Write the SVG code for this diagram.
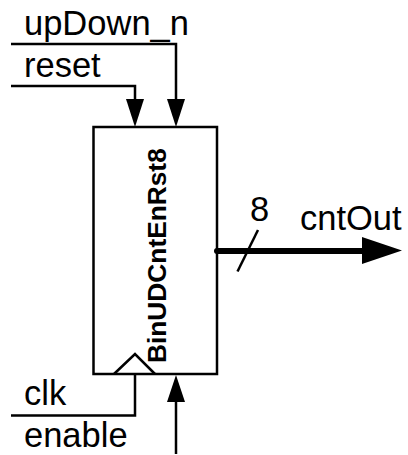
<svg xmlns="http://www.w3.org/2000/svg" width="408" height="455" viewBox="0 0 408 455">
<style>
text{font-family:"Liberation Sans",Arial,sans-serif;fill:#000}
.l{font-size:34.5px}
.w{fill:none;stroke:#000;stroke-width:2.5}
.a{fill:#000;stroke:none}
</style>
<rect width="408" height="455" fill="#fff"/>
<g id="connectors">
<path class="w" d="M11 44H176V100"/>
<path class="a" d="M167 99H185L176 127Z"/>
<path class="w" d="M11 86H135V100"/>
<path class="a" d="M126 99H144L135 127Z"/>
<path class="w" d="M11 415.500H135V374"/>
<path class="w" d="M176 454V400"/>
<path class="a" d="M167 402H185L176 375Z"/>
<path fill="none" stroke="#000" stroke-width="6" stroke-linecap="round" d="M217 251H365"/>
<path class="a" d="M362 237L402 250.500L362 264Z"/>
<path class="w" d="M237.500 271.500L258 230"/>
</g>
<g id="block">
<rect x="93.500" y="127" width="123.500" height="247" fill="none" stroke="#000" stroke-width="2.500"/>
<path class="w" d="M114 374L135 354L155 374"/>
<text transform="translate(166 363) rotate(-90)" font-size="26.300" font-weight="bold">BinUDCntEnRst8</text>
</g>
<g id="labels">
<text class="l" x="24" y="35">upDown_n</text>
<text class="l" x="24" y="77">reset</text>
<text class="l" x="24" y="405">clk</text>
<text class="l" x="24" y="447">enable</text>
<text class="l" x="250" y="221">8</text>
<text class="l" x="300" y="230">cntOut</text>
</g>
</svg>
